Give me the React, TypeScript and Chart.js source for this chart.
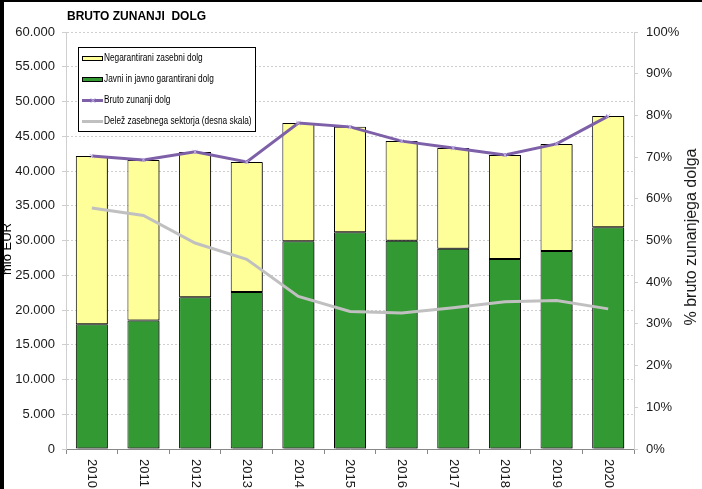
import React, { useEffect, useRef } from 'react';
import { Chart, registerables } from 'chart.js';
Chart.register(...registerables);

const years = ['2010', '2011', '2012', '2013', '2014', '2015', '2016', '2017', '2018', '2019', '2020'];
// mio EUR
const javni = [17950, 18500, 21850, 22600, 29900, 31200, 29950, 28800, 27350, 28500, 31900];
const negarantirani = [24200, 23100, 20900, 18700, 17000, 15150, 14350, 14500, 14950, 15400, 16000];
const bruto = [42150, 41600, 42750, 41300, 46900, 46350, 44300, 43300, 42300, 43900, 47900];
// % (right scale)
const delez = [57.8, 56.0, 49.4, 45.5, 36.6, 33.0, 32.6, 33.9, 35.3, 35.6, 33.6];

const title = 'BRUTO ZUNANJI  DOLG';
const leftTitle = 'mio EUR';
const rightTitle = '% bruto zunanjega dolga';
const labelNeg = 'Negarantirani zasebni dolg';
const labelJavni = 'Javni in javno garantirani dolg';
const labelBruto = 'Bruto zunanji dolg';
const labelDelez = 'Delež zasebnega sektorja (desna skala)';

const FONT = '"Liberation Sans", Arial, sans-serif';
const YELLOW = '#FFFF99';
const GREEN = '#339933';
const PURPLE = '#7E60A8';
const MARK = '#C0B2E6';
const GRAY = '#C0C0C0';

const fmtThousands = (v: number) => (v === 0 ? '0' : Math.round(v / 1000) + '.000');

export default function App() {
  const ref = useRef<HTMLCanvasElement | null>(null);

  useEffect(() => {
    document.body.style.margin = '0';
    const canvas = ref.current;
    if (!canvas) return;

    const shadowPlugin = {
      id: 'barShadow',
      beforeDatasetDraw(chart: any, args: any) {
        const ds = chart.data.datasets[args.index];
        if (ds.type === 'bar') {
          const ctx = chart.ctx;
          ctx.save();
          ctx.shadowColor = 'rgba(0,0,0,0.45)';
          ctx.shadowOffsetX = 2;
          ctx.shadowOffsetY = 1;
          ctx.shadowBlur = 0;
        }
      },
      afterDatasetDraw(chart: any, args: any) {
        const ds = chart.data.datasets[args.index];
        if (ds.type === 'bar') chart.ctx.restore();
      },
    };

    const decorPlugin = {
      id: 'decor',
      afterDraw(chart: any) {
        const ctx = chart.ctx;
        const xScale = chart.scales.x;
        // x labels rotated clockwise
        ctx.save();
        ctx.fillStyle = '#1a1a1a';
        ctx.font = `13px ${FONT}`;
        ctx.textAlign = 'left';
        ctx.textBaseline = 'middle';
        chart.data.labels.forEach((lab: string, i: number) => {
          const x = xScale.getPixelForValue(i);
          ctx.save();
          ctx.translate(x, chart.chartArea.bottom + 10);
          ctx.rotate(Math.PI / 2);
          ctx.fillText(lab, 0, 0);
          ctx.restore();
        });
        ctx.restore();

        // title
        ctx.save();
        ctx.fillStyle = '#000';
        ctx.font = `bold 12px ${FONT}`;
        ctx.textAlign = 'left';
        ctx.textBaseline = 'middle';
        ctx.fillText(title, 67, 17);
        ctx.restore();

        // axis titles
        ctx.save();
        ctx.fillStyle = '#000';
        ctx.font = `13px ${FONT}`;
        ctx.textAlign = 'center';
        ctx.textBaseline = 'middle';
        ctx.translate(7, 249);
        ctx.rotate(-Math.PI / 2);
        ctx.fillText(leftTitle, 0, 0);
        ctx.restore();

        ctx.save();
        ctx.fillStyle = '#1a1a1a';
        ctx.font = `16px ${FONT}`;
        ctx.textAlign = 'center';
        ctx.textBaseline = 'middle';
        ctx.translate(692, 237);
        ctx.rotate(-Math.PI / 2);
        ctx.fillText(rightTitle, 0, 0);
        ctx.restore();

        // legend
        const lx = 78.5, ly = 47.5, lw = 177, lh = 84;
        ctx.save();
        ctx.fillStyle = '#fff';
        ctx.fillRect(lx, ly, lw, lh);
        ctx.strokeStyle = '#000';
        ctx.lineWidth = 1;
        ctx.strokeRect(lx, ly, lw, lh);
        const items = [
          { label: labelNeg, kind: 'box', color: YELLOW, y: 58.5 },
          { label: labelJavni, kind: 'box', color: GREEN, y: 79.5 },
          { label: labelBruto, kind: 'line', color: PURPLE, y: 100.5 },
          { label: labelDelez, kind: 'line', color: GRAY, y: 121.5 },
        ];
        items.forEach((it) => {
          if (it.kind === 'box') {
            ctx.fillStyle = it.color;
            ctx.fillRect(82.5, it.y - 2, 20, 4);
            ctx.strokeStyle = '#000';
            ctx.lineWidth = 1;
            ctx.strokeRect(82.5, it.y - 2, 20, 4);
          } else {
            ctx.strokeStyle = it.color;
            ctx.lineWidth = 3;
            ctx.beginPath();
            ctx.moveTo(82, it.y);
            ctx.lineTo(103, it.y);
            ctx.stroke();
            if (it.color === PURPLE) {
              ctx.strokeStyle = MARK;
              ctx.lineWidth = 1;
              ctx.beginPath();
              ctx.moveTo(90.5, it.y - 2.5);
              ctx.lineTo(95.5, it.y + 2.5);
              ctx.moveTo(95.5, it.y - 2.5);
              ctx.lineTo(90.5, it.y + 2.5);
              ctx.stroke();
            }
          }
          ctx.save();
          ctx.fillStyle = '#000';
          ctx.font = `10px ${FONT}`;
          ctx.textAlign = 'left';
          ctx.textBaseline = 'middle';
          ctx.translate(104, it.y);
          ctx.scale(0.83, 1);
          ctx.fillText(it.label, 0, 0);
          ctx.restore();
        });
        ctx.restore();

        // black frame (top, left)
        ctx.save();
        ctx.fillStyle = '#000';
        ctx.fillRect(0, 0, chart.width, 2);
        ctx.fillRect(0, 0, 4, chart.height);
        ctx.restore();
      },
    };

    const chart = new Chart(canvas, {
      type: 'bar',
      data: {
        labels: years,
        datasets: [
          {
            type: 'bar',
            label: labelJavni,
            data: javni,
            backgroundColor: GREEN,
            borderColor: '#000',
            borderWidth: 1,
            borderSkipped: false,
            stack: 'bars',
            order: 1,
            yAxisID: 'y',
            barPercentage: 0.62,
            categoryPercentage: 1,
          },
          {
            type: 'bar',
            label: labelNeg,
            data: negarantirani,
            backgroundColor: YELLOW,
            borderColor: '#000',
            borderWidth: 1,
            borderSkipped: false,
            stack: 'bars',
            order: 1,
            yAxisID: 'y',
            barPercentage: 0.62,
            categoryPercentage: 1,
          },
          {
            type: 'line',
            label: labelBruto,
            data: bruto,
            borderColor: PURPLE,
            borderWidth: 3,
            pointStyle: 'crossRot',
            pointRadius: 3,
            pointBorderColor: MARK,
            pointBorderWidth: 1,
            pointBackgroundColor: MARK,
            stack: 'lineA',
            order: 0,
            yAxisID: 'y',
            tension: 0,
          },
          {
            type: 'line',
            label: labelDelez,
            data: delez,
            borderColor: GRAY,
            borderWidth: 3,
            pointRadius: 0,
            stack: 'lineB',
            order: 0,
            yAxisID: 'y1',
            tension: 0,
          },
        ] as any,
      },
      options: {
        responsive: false,
        animation: false,
        devicePixelRatio: 1,
        layout: { padding: { top: 32, left: 0, right: 0, bottom: 0 } },
        plugins: {
          legend: { display: false },
          title: { display: false },
          tooltip: { enabled: false },
        },
        scales: {
          x: {
            stacked: true,
            offset: true,
            grid: {
              offset: true,
              drawOnChartArea: false,
              drawTicks: true,
              tickLength: 5,
              color: '#888',
            },
            border: { display: true, color: '#888', width: 1 },
            ticks: { color: 'rgba(0,0,0,0)', autoSkip: false, maxRotation: 90, minRotation: 90, font: { size: 13, family: FONT } },
            afterFit(scale: any) {
              scale.height = 40;
            },
          },
          y: {
            position: 'left',
            stacked: true,
            min: 0,
            max: 60000,
            ticks: {
              stepSize: 5000,
              color: '#1a1a1a',
              padding: 7,
              font: { size: 13, family: FONT },
              callback: (v: any) => fmtThousands(Number(v)),
            },
            grid: {
              color: '#cfcfcf',
              tickLength: 4,
              tickColor: '#cfcfcf',
              lineWidth: 1,
            },
            border: { display: true, color: '#cfcfcf', dash: [2, 2] },
            afterFit(scale: any) {
              scale.width = 66;
            },
          } as any,
          y1: {
            position: 'right',
            min: 0,
            max: 100,
            ticks: {
              stepSize: 10,
              color: '#1a1a1a',
              padding: 8,
              font: { size: 13, family: FONT },
              callback: (v: any) => v + '%',
            },
            grid: { drawOnChartArea: false, tickLength: 4, color: '#cfcfcf' },
            border: { display: true, color: '#cfcfcf', dash: [2, 2] },
            afterFit(scale: any) {
              scale.width = 68;
            },
          } as any,
        },
      },
      plugins: [shadowPlugin, decorPlugin],
    } as any);

    // dashed horizontal gridlines
    (chart.options.scales as any).y.grid.borderDash = [2, 2];
    (chart.options.scales as any).y.border.dash = [2, 2];
    chart.update();

    return () => chart.destroy();
  }, []);

  return (
    <div style={{ position: 'absolute', left: 0, top: 0, width: 702, height: 489, background: '#fff' }}>
      <canvas ref={ref} width={702} height={489} style={{ width: 702, height: 489, display: 'block' }} />
    </div>
  );
}
